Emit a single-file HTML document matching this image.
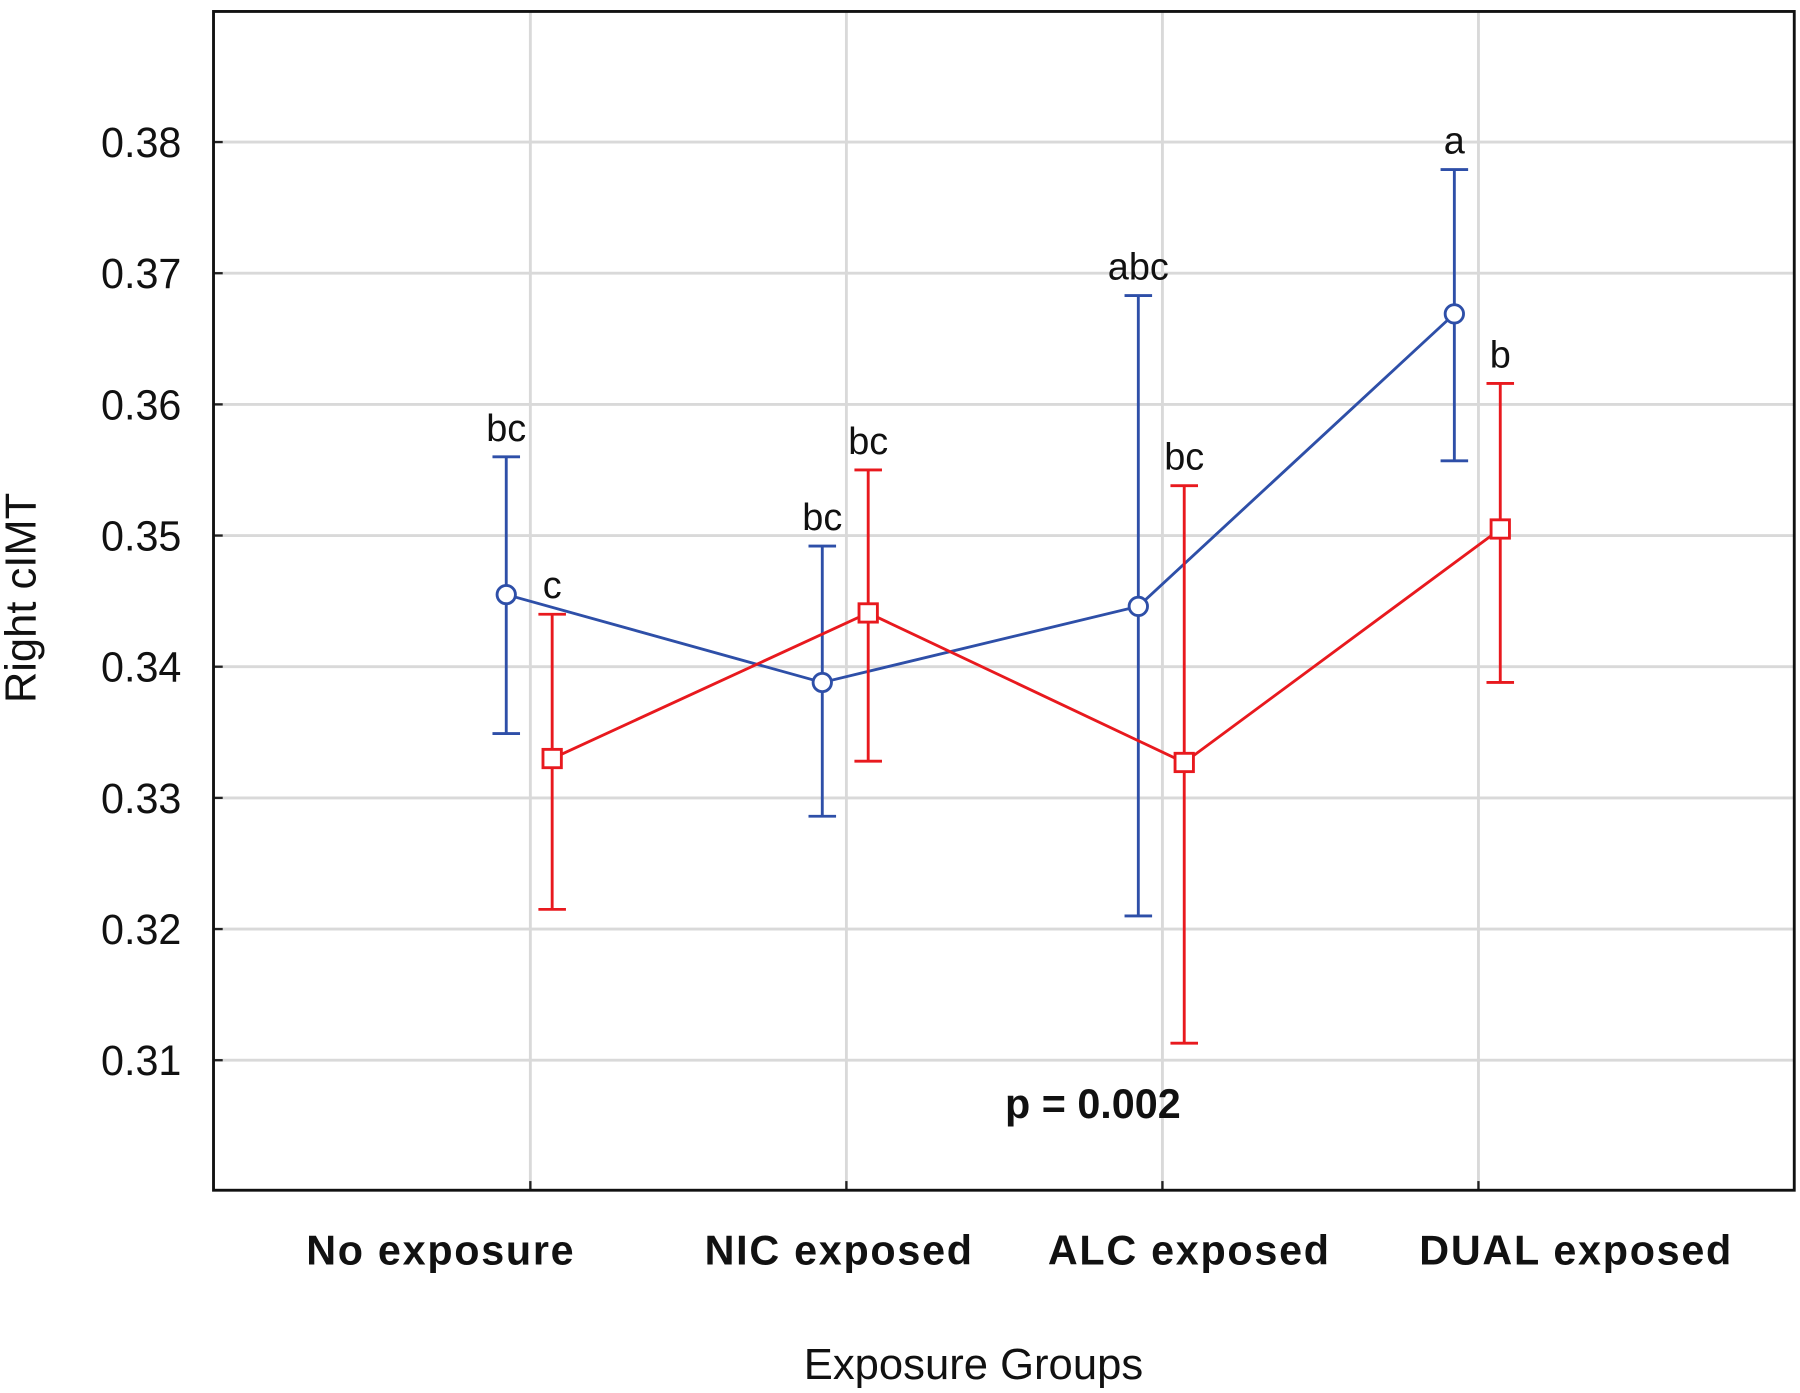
<!DOCTYPE html>
<html><head><meta charset="utf-8"><style>
html,body{margin:0;padding:0;background:#fff;}
svg{display:block;}
text{font-family:"Liberation Sans",sans-serif;}
</style></head><body>
<svg id="chart" width="1800" height="1393" viewBox="0 0 1568 1216" preserveAspectRatio="none" xmlns="http://www.w3.org/2000/svg">
<g id="grid"></g><g id="marks"></g><g id="labels"></g>
</svg>
<script>
const categories = ["No exposure","NIC exposed","ALC exposed","DUAL exposed"];
const yTicks = [0.31,0.32,0.33,0.34,0.35,0.36,0.37,0.38];
const blueMean = [0.3455,0.3388,0.3446,0.3669];
const blueUpper = [0.3560,0.3492,0.3683,0.3779];
const blueLower = [0.3349,0.3286,0.3210,0.3557];
const blueLetters = ["bc","bc","abc","a"];
const redMean = [0.3330,0.3441,0.3327,0.3505];
const redUpper = [0.3440,0.3550,0.3538,0.3616];
const redLower = [0.3215,0.3328,0.3113,0.3388];
const redLetters = ["c","bc","bc","b"];

const NS="http://www.w3.org/2000/svg";
const L=186,R=1563,T=10,B=1039;
const yScale=v=>124+(0.38-v)*11450;
const xCat=i=>462+i*275.3;
function mk(tag,attrs,parent,txt){const e=document.createElementNS(NS,tag);for(const k in attrs)e.setAttribute(k,attrs[k]);if(txt!=null)e.textContent=txt;document.getElementById(parent).appendChild(e);return e;}

yTicks.forEach(v=>{
  const g=mk('line',{x1:L,x2:R,y1:yScale(v),y2:yScale(v),stroke:'#d9d9d9','stroke-width':2.5},'grid');
  
  
  const tk=mk('line',{x1:L,x2:L+8,y1:yScale(v),y2:yScale(v),stroke:'#222','stroke-width':2},'grid');
  
  
  const t=mk('text',{x:158,y:yScale(v)+13,'text-anchor':'end','font-size':37,fill:'#111',textLength:70,lengthAdjust:'spacingAndGlyphs'},'labels',v.toFixed(2));
  
  
});
categories.forEach((c,i)=>{
  const g=mk('line',{x1:xCat(i),x2:xCat(i),y1:T,y2:B,stroke:'#d9d9d9','stroke-width':2.5},'grid');
  
  
  const tk=mk('line',{x1:xCat(i),x2:xCat(i),y1:B-8,y2:B,stroke:'#222','stroke-width':2},'grid');
  
  
  const t=mk('text',{x:[384,731,1036,1373][i],y:1104,'text-anchor':'middle','font-size':36,'font-weight':'bold',fill:'#111','letter-spacing':'1.5'},'labels',c);
  
  
});
const frame=mk('rect',{x:L,y:T,width:R-L,height:B-T,fill:'none',stroke:'#111','stroke-width':2.5},'grid');



function series(mean,up,lo,letters,color,off,marker,name){
  const pts=mean.map((m,i)=>(xCat(i)+off)+','+yScale(m)).join(' ');
  const pl=mk('polyline',{points:pts,fill:'none',stroke:color,'stroke-width':2.5},'marks');
  
  
  mean.forEach((m,i)=>{
    const x=xCat(i)+off;
    const eb=mk('path',{d:`M${x},${yScale(up[i])}V${yScale(lo[i])}M${x-12},${yScale(up[i])}H${x+12}M${x-12},${yScale(lo[i])}H${x+12}`,stroke:color,'stroke-width':2.5,fill:'none'},'marks');
    
    
    let mkEl;
    if(marker==='circle') mkEl=mk('circle',{cx:x,cy:yScale(m),r:8,fill:'#fff',stroke:color,'stroke-width':2.5},'marks');
    else mkEl=mk('rect',{x:x-8,y:yScale(m)-8,width:16,height:16,fill:'#fff',stroke:color,'stroke-width':2.5},'marks');
    
    
    const t=mk('text',{x:x,y:yScale(up[i])-14,'text-anchor':'middle','font-size':33,fill:'#111'},'labels',letters[i]);
    
    
  });
}
series(blueMean,blueUpper,blueLower,blueLetters,'#2e4fa8',-21,'circle','blue-series');
series(redMean,redUpper,redLower,redLetters,'#e8191e',19,'square','red-series');

const p=mk('text',{x:952,y:976,'text-anchor':'middle','font-size':36,'font-weight':'bold',fill:'#111'},'labels','p = 0.002');


const xt=mk('text',{x:848,y:1204,'text-anchor':'middle','font-size':38,fill:'#111'},'labels','Exposure Groups');


const yt=mk('text',{x:0,y:0,'text-anchor':'middle','font-size':38,fill:'#111',transform:'translate(31,522) rotate(-90)'},'labels','Right cIMT');


</script>
</body></html>
